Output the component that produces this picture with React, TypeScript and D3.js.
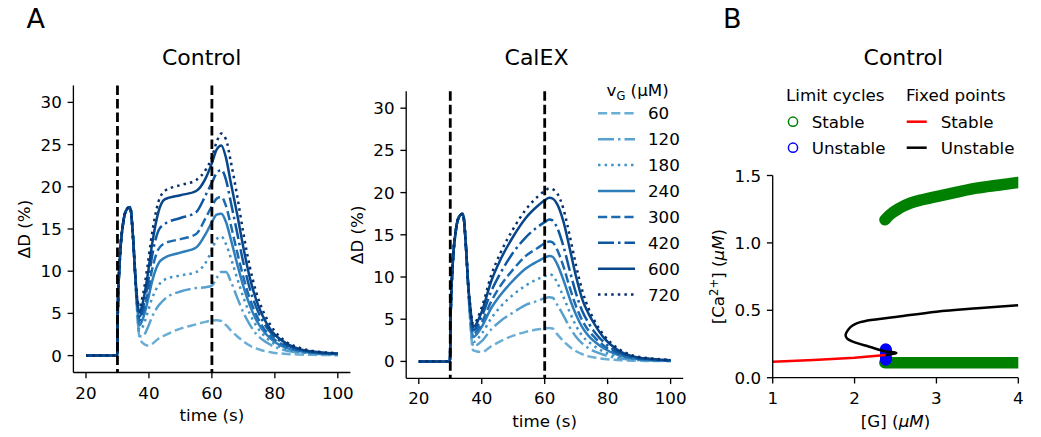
import React from 'react';
import * as d3 from 'd3';

// v_G levels and how each trace is styled (Blues colormap, cycling dash styles)
const vgLevels = [60, 120, 180, 240, 300, 420, 600, 720];
const lineColors = ['#6aaed6', '#58a1cf', '#4292c6', '#2e7ebc', '#1c6aaf', '#0d58a1', '#08468a', '#08306b'];
const lineDashes = ['9.2 4', '16 4 2.5 4', '2.5 4.1', '', '9.2 4', '16 4 2.5 4', '', '2.5 4.1'];

const timeTicks = [20, 40, 60, 80, 100];
const dTicks = [0, 5, 10, 15, 20, 25, 30];
const stimTimes = [30, 60];

// Control traces, Delta D (%) vs time (s)
const controlTime = [20, 29.9, 30.1, 30.8, 31.8, 32.9, 34.0, 35.0, 35.6, 36.2, 37.0, 38.0, 39.5, 41, 43, 45, 50, 55, 58, 60, 61.5, 63, 64.5, 66, 68, 70, 72, 74, 76, 79, 83, 88, 94, 100];
const control60 = [0, 0, 5.0, 11.7, 15.7, 17.3, 17.6, 13.7, 9.8, 5.4, 2.2, 1.5, 1.2, 1.4, 2.0, 2.4, 3.2, 3.7, 4.0, 4.15, 4.2, 4.1, 3.6, 3.0, 2.3, 1.7, 1.2, 0.85, 0.6, 0.38, 0.22, 0.13, 0.08, 0.05];
const control120 = [0, 0, 5.0, 11.7, 15.7, 17.3, 17.6, 13.7, 9.8, 5.8, 2.3, 2.3, 3.2, 4.6, 5.9, 6.7, 7.6, 8.0, 8.1, 8.3, 9.2, 9.9, 9.9, 8.8, 6.9, 5.1, 3.7, 2.6, 1.9, 1.2, 0.65, 0.33, 0.18, 0.12];
const control180 = [0, 0, 5.0, 11.7, 15.7, 17.3, 17.6, 13.7, 9.8, 6.1, 3.0, 3.4, 5.0, 6.8, 8.3, 9.0, 9.5, 9.9, 11.0, 12.5, 13.8, 14.1, 13.2, 11.6, 9.2, 6.9, 5.0, 3.6, 2.6, 1.6, 0.85, 0.42, 0.24, 0.15];
const control240 = [0, 0, 5.0, 11.7, 15.7, 17.3, 17.6, 13.7, 9.8, 6.3, 3.6, 4.3, 6.3, 8.8, 10.9, 11.6, 12.2, 12.8, 14.4, 15.8, 16.7, 16.8, 15.8, 13.8, 10.9, 8.2, 6.0, 4.3, 3.1, 1.9, 1.0, 0.5, 0.28, 0.18];
const control300 = [0, 0, 5.0, 11.7, 15.7, 17.3, 17.6, 13.7, 9.8, 6.4, 4.1, 4.9, 7.2, 10.2, 12.6, 13.3, 13.8, 14.4, 16.3, 17.7, 18.6, 18.8, 17.7, 15.5, 12.3, 9.3, 6.8, 4.9, 3.5, 2.2, 1.2, 0.6, 0.3, 0.2];
const control420 = [0, 0, 5.0, 11.7, 15.7, 17.3, 17.6, 13.7, 9.8, 6.6, 4.6, 5.5, 8.2, 11.8, 14.8, 15.6, 16.3, 17.0, 19.0, 20.5, 21.6, 22.0, 20.8, 18.2, 14.6, 11.0, 8.0, 5.8, 4.2, 2.6, 1.4, 0.7, 0.35, 0.22];
const control600 = [0, 0, 5.0, 11.7, 15.7, 17.3, 17.6, 13.7, 9.8, 6.8, 5.1, 6.2, 9.3, 13.2, 17.0, 18.5, 19.0, 19.5, 21.0, 22.8, 24.4, 24.9, 23.4, 20.5, 16.8, 12.8, 9.3, 6.7, 4.8, 2.9, 1.6, 0.75, 0.4, 0.25];
const control720 = [0, 0, 5.0, 11.7, 15.7, 17.3, 17.6, 13.7, 9.8, 7.0, 5.8, 7.0, 10.5, 14.5, 18.2, 19.5, 20.2, 20.8, 22.0, 23.5, 25.3, 26.3, 25.6, 23.0, 19.0, 14.5, 10.6, 7.6, 5.5, 3.4, 1.8, 0.9, 0.45, 0.3];

// CalEX traces
const calexTime = [20, 29.9, 30.1, 30.8, 31.8, 32.9, 34.0, 35.0, 35.6, 36.3, 37.3, 40, 43, 46, 50, 54, 58, 60, 61.5, 62.5, 64, 66, 68, 70, 72, 74, 76, 79, 83, 88, 94, 100];
const calex60 = [0, 0, 5.0, 11.6, 15.6, 17.2, 17.5, 13.5, 9.6, 4.9, 1.3, 1.1, 1.8, 2.4, 3.05, 3.5, 3.8, 3.9, 3.95, 3.9, 3.2, 2.4, 1.7, 1.2, 0.85, 0.6, 0.45, 0.3, 0.17, 0.09, 0.05, 0.03];
const calex120 = [0, 0, 5.0, 11.6, 15.6, 17.2, 17.5, 13.5, 9.6, 5.2, 1.8, 2.4, 3.8, 4.8, 5.8, 6.7, 7.2, 7.5, 7.6, 7.55, 6.7, 5.4, 4.0, 2.9, 2.1, 1.55, 1.15, 0.75, 0.4, 0.2, 0.1, 0.06];
const calex180 = [0, 0, 5.0, 11.6, 15.6, 17.2, 17.5, 13.5, 9.6, 5.5, 2.3, 3.3, 5.1, 6.5, 7.9, 9.0, 9.8, 10.1, 10.3, 10.2, 9.3, 7.6, 5.8, 4.2, 3.0, 2.3, 1.75, 1.1, 0.6, 0.28, 0.14, 0.08];
const calex240 = [0, 0, 5.0, 11.6, 15.6, 17.2, 17.5, 13.5, 9.6, 5.8, 2.9, 4.1, 6.3, 7.9, 9.6, 11.0, 11.9, 12.3, 12.5, 12.4, 11.5, 9.6, 7.4, 5.5, 4.0, 3.0, 2.3, 1.5, 0.8, 0.35, 0.18, 0.1];
const calex300 = [0, 0, 5.0, 11.6, 15.6, 17.2, 17.5, 13.5, 9.6, 6.0, 3.3, 4.6, 7.1, 9.0, 10.9, 12.5, 13.5, 14.0, 14.2, 14.1, 13.2, 11.2, 8.7, 6.5, 4.8, 3.6, 2.8, 1.8, 0.95, 0.42, 0.2, 0.12];
const calex420 = [0, 0, 5.0, 11.6, 15.6, 17.2, 17.5, 13.5, 9.6, 6.3, 3.7, 5.3, 8.3, 10.5, 12.9, 14.7, 16.0, 16.5, 16.8, 16.7, 15.8, 13.6, 10.7, 8.0, 5.9, 4.5, 3.4, 2.2, 1.15, 0.5, 0.25, 0.13];
const calex600 = [0, 0, 5.0, 11.6, 15.6, 17.2, 17.5, 13.5, 9.6, 6.6, 4.1, 5.9, 9.5, 12.1, 14.8, 17.0, 18.5, 19.1, 19.4, 19.3, 18.6, 16.5, 13.3, 10.0, 7.3, 5.6, 4.3, 2.7, 1.4, 0.6, 0.3, 0.15];
const calex720 = [0, 0, 5.0, 11.6, 15.6, 17.2, 17.5, 13.5, 9.6, 6.8, 4.4, 6.4, 10.2, 12.9, 15.7, 18.0, 19.6, 20.2, 20.5, 20.4, 19.9, 18.0, 14.8, 11.3, 8.3, 6.2, 4.7, 3.0, 1.6, 0.7, 0.35, 0.18];

const controlSeries = [control60, control120, control180, control240, control300, control420, control600, control720];
const calexSeries = [calex60, calex120, calex180, calex240, calex300, calex420, calex600, calex720];

// Bifurcation diagram, [Ca2+] vs [G]
const gTicks = [1, 2, 3, 4];
const caTicks = [0, 0.5, 1.0, 1.5];
const lcStableUpperG = [2.371, 2.43, 2.55, 2.68, 2.84, 3.0, 3.25, 3.49, 3.75, 4.0];
const lcStableUpperCa = [1.171, 1.208, 1.258, 1.295, 1.322, 1.344, 1.377, 1.406, 1.428, 1.448];
const lcStableLowerG = [2.37, 2.6, 3.0, 3.5, 4.0];
const lcStableLowerCa = [0.111, 0.11, 0.11, 0.11, 0.11];
const lcUnstableG = [2.38, 2.384, 2.387, 2.385, 2.38, 2.38, 2.384, 2.387, 2.385, 2.38];
const lcUnstableCa = [0.175, 0.19, 0.2, 0.208, 0.212, 0.165, 0.15, 0.142, 0.136, 0.132];
const fpStableG = [1.0, 1.5, 2.0, 2.38];
const fpStableCa = [0.119, 0.132, 0.148, 0.168];
const fpUnstableG = [2.38, 2.46, 2.51, 2.46, 2.38, 2.18, 1.98, 1.91, 1.89, 1.91, 1.95, 2.0, 2.07, 2.2, 2.47, 3.0, 3.5, 4.0];
const fpUnstableCa = [0.168, 0.176, 0.184, 0.19, 0.195, 0.23, 0.267, 0.29, 0.317, 0.345, 0.375, 0.395, 0.412, 0.428, 0.448, 0.49, 0.515, 0.537];

const FONT = 'DejaVu Sans';
const FS = 16.7;
const TICK = 5.8;
const SW = 1.33;

function TracePanel({ left, top, time, series }) {
    const w = 277, h = 287;
    const x = d3.scaleLinear().domain([16, 104]).range([left, left + w]);
    const y = d3.scaleLinear().domain([-2, 32]).range([top + h, top]);
    const line = d3.line().x((_, i) => x(time[i])).y(v => y(v)).curve(d3.curveMonotoneX);
    const bottom = top + h;

    return (
        <g>
            {series.map((vals, i) => (
                <path key={i} d={line(vals)} fill="none" stroke={lineColors[i]} strokeWidth={2.5}
                    strokeDasharray={lineDashes[i] || undefined} />
            ))}
            {stimTimes.map(t => (
                <line key={t} x1={x(t)} x2={x(t)} y1={top} y2={bottom} stroke="black" strokeWidth={2.8} strokeDasharray="9.5 4" />
            ))}
            <line x1={left} x2={left} y1={top} y2={bottom} stroke="black" strokeWidth={SW} />
            <line x1={left} x2={left + w} y1={bottom} y2={bottom} stroke="black" strokeWidth={SW} />
            {timeTicks.map(t => (
                <g key={t}>
                    <line x1={x(t)} x2={x(t)} y1={bottom} y2={bottom + TICK} stroke="black" strokeWidth={SW} />
                    <text x={x(t)} y={bottom + 26} textAnchor="middle" fontSize={FS}>{t}</text>
                </g>
            ))}
            {dTicks.map(v => (
                <g key={v}>
                    <line x1={left - TICK} x2={left} y1={y(v)} y2={y(v)} stroke="black" strokeWidth={SW} />
                    <text x={left - 11.6} y={y(v)} textAnchor="end" dominantBaseline="central" fontSize={FS}>{v}</text>
                </g>
            ))}
            <text x={left + w / 2} y={bottom + 48.5} textAnchor="middle" fontSize={FS}>time (s)</text>
            <text transform={`translate(${left - 43.5},${top + h / 2}) rotate(-90)`} textAnchor="middle" fontSize={FS}>ΔD (%)</text>
        </g>
    );
}

function VgLegend() {
    const lx = 598, tx = 648, y0 = 113.3, step = 25.9;
    return (
        <g fontSize={FS}>
            <text x={606.5} y={95.5}>v<tspan dy={4} fontSize={11.5}>G</tspan><tspan dy={-4}> (μM)</tspan></text>
            {vgLevels.map((v, i) => (
                <g key={v}>
                    <line x1={lx} x2={lx + 37} y1={y0 + i * step} y2={y0 + i * step} stroke={lineColors[i]} strokeWidth={2.5}
                        strokeDasharray={lineDashes[i] || undefined} />
                    <text x={tx} y={y0 + i * step} dominantBaseline="central">{v}</text>
                </g>
            ))}
        </g>
    );
}

function BifurcationPanel() {
    const left = 772.7, right = 1018.3, top = 175.5, bottom = 377.7;
    const gx = d3.scaleLinear().domain([1, 4]).range([left, right]);
    const cy = d3.scaleLinear().domain([0, 1.5]).range([bottom, top]);
    const mk = (gs, cs, curve) => d3.line().x((_, i) => gx(gs[i])).y((_, i) => cy(cs[i])).curve(curve)(gs);

    return (
        <g>
            <defs>
                <clipPath id="clipB">
                    <rect x={left - 20} y={top} width={right - left + 20} height={bottom - top} />
                </clipPath>
            </defs>
            <g clipPath="url(#clipB)">
                <path d={mk(lcStableUpperG, lcStableUpperCa, d3.curveMonotoneX)} fill="none" stroke="#008000" strokeWidth={11.5} strokeLinecap="round" strokeLinejoin="round" />
                <path d={mk(lcStableLowerG, lcStableLowerCa, d3.curveMonotoneX)} fill="none" stroke="#008000" strokeWidth={11.5} strokeLinecap="round" strokeLinejoin="round" />
                {lcUnstableG.map((g, i) => (
                    <circle key={i} cx={gx(g)} cy={cy(lcUnstableCa[i])} r={5} fill="#0000ff" stroke="#0000ff" strokeWidth={1.5} />
                ))}
                <path d={mk(fpStableG, fpStableCa, d3.curveLinear)} fill="none" stroke="#ff0000" strokeWidth={2.5} />
                <path d={mk(fpUnstableG, fpUnstableCa, d3.curveCatmullRom)} fill="none" stroke="black" strokeWidth={2.5} />
            </g>
            <line x1={left} x2={left} y1={top} y2={bottom} stroke="black" strokeWidth={SW} />
            <line x1={left} x2={right} y1={bottom} y2={bottom} stroke="black" strokeWidth={SW} />
            {gTicks.map(t => (
                <g key={t}>
                    <line x1={gx(t)} x2={gx(t)} y1={bottom} y2={bottom + TICK} stroke="black" strokeWidth={SW} />
                    <text x={gx(t)} y={bottom + 26.5} textAnchor="middle" fontSize={FS}>{t}</text>
                </g>
            ))}
            {caTicks.map(v => (
                <g key={v}>
                    <line x1={left - TICK} x2={left} y1={cy(v)} y2={cy(v)} stroke="black" strokeWidth={SW} />
                    <text x={left - 11.6} y={cy(v)} textAnchor="end" dominantBaseline="central" fontSize={FS}>{d3.format('.1f')(v)}</text>
                </g>
            ))}
            <text x={(left + right) / 2} y={bottom + 49.5} textAnchor="middle" fontSize={FS}>
                [G] (<tspan fontStyle="italic">μM</tspan>)
            </text>
            <text transform={`translate(${left - 48.5},${(top + bottom) / 2}) rotate(-90)`} textAnchor="middle" fontSize={FS}>
                [Ca<tspan dy={-6} fontSize={11.7}>2+</tspan><tspan dy={6}>] (</tspan><tspan fontStyle="italic">μM</tspan>)
            </text>

            <g fontSize={FS}>
                <text x={786} y={95} dominantBaseline="central">Limit cycles</text>
                <text x={906} y={95} dominantBaseline="central">Fixed points</text>
                <circle cx={793} cy={121.7} r={4.6} fill="none" stroke="#008000" strokeWidth={1.5} />
                <text x={811.7} y={121.7} dominantBaseline="central">Stable</text>
                <circle cx={793} cy={147.7} r={4.6} fill="none" stroke="#0000ff" strokeWidth={1.5} />
                <text x={811.7} y={147.7} dominantBaseline="central">Unstable</text>
                <line x1={906.7} x2={926.7} y1={121.7} y2={121.7} stroke="#ff0000" strokeWidth={2.5} />
                <text x={940.7} y={121.7} dominantBaseline="central">Stable</text>
                <line x1={906.7} x2={926.7} y1={147.7} y2={147.7} stroke="black" strokeWidth={2.5} />
                <text x={940.7} y={147.7} dominantBaseline="central">Unstable</text>
            </g>
        </g>
    );
}

export default function App() {
    return (
        <svg width={1041} height={437} style={{ position: 'absolute', left: 0, top: 0, background: 'white' }}
            fontFamily={FONT} fill="black">
            <text x={26.5} y={28.3} fontSize={27}>A</text>
            <text x={723} y={28.3} fontSize={27}>B</text>
            <text x={201.7} y={64.5} textAnchor="middle" fontSize={22}>Control</text>
            <text x={536.5} y={64.5} textAnchor="middle" fontSize={22}>CalEX</text>
            <text x={903.3} y={64.5} textAnchor="middle" fontSize={22}>Control</text>
            <TracePanel left={73.4} top={85.5} time={controlTime} series={controlSeries} />
            <TracePanel left={406.2} top={91.3} time={calexTime} series={calexSeries} />
            <VgLegend />
            <BifurcationPanel />
        </svg>
    );
}
